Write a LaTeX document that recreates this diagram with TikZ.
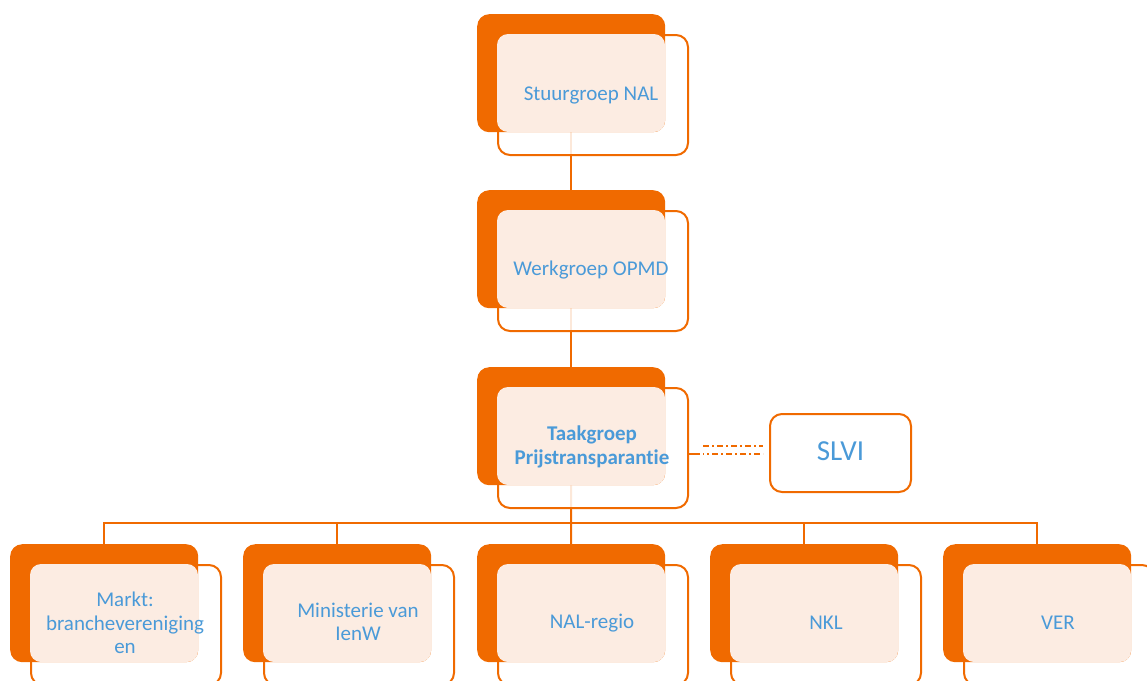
\documentclass[tikz,border=0pt]{standalone}
\usepackage{fontspec}
\setmainfont{Carlito}[Ligatures={NoCommon}]
\usetikzlibrary{backgrounds}
\definecolor{org}{HTML}{F06A00}
\definecolor{peach}{HTML}{FCECE2}
\definecolor{txt}{HTML}{4A9AD8}
\newcommand\orgbox[3]{%
  \node[frontbox] (#1f) at (#2+20,#3+20) {};
  \node[backbox] (#1b) at (#2,#3) {};
  \fill[peach, rounded corners=11pt] (#2+20,#3+20) rectangle (#2+188,#3+118);
}
\begin{document}
\begin{tikzpicture}[x=1pt,y=-1pt,
  backbox/.style={rectangle, anchor=north west, fill=org, rounded corners=12pt,
    minimum width=188pt, minimum height=118pt, inner sep=0pt},
  frontbox/.style={rectangle, anchor=north west, draw=org, line width=2pt, fill=white, fill opacity=0.85,
    rounded corners=12pt, minimum width=190pt, minimum height=120pt, inner sep=0pt},
  lbl/.style={text=txt, align=center, font=\fontsize{21}{23.5}\selectfont, inner sep=0pt},
  conn/.style={draw=org, line width=2pt},
  dashrow/.style={draw=org, line width=1.6pt, dash pattern=on 6pt off 3pt on 2pt off 3pt,
    shorten <=14pt, shorten >=6pt}]
\path[use as bounding box] (0,0) rectangle (1147,680);
\clip (0,0) rectangle (1147,680);

\orgbox{t1}{477}{14}
\orgbox{t2}{477}{190}
\orgbox{t3}{477}{367}
\orgbox{m1}{10}{544}
\orgbox{m2}{243}{544}
\orgbox{m3}{477}{544}
\orgbox{m4}{710}{544}
\orgbox{m5}{943}{544}

\node[draw=org, line width=2pt, rounded corners=12pt, fill=white, minimum width=141pt,
  minimum height=78pt, inner sep=0pt, text=txt, font=\fontsize{29}{32}\selectfont,
  anchor=north west] (slvi) at (769,413) {\raisebox{4pt}{SLVI}};

\node[lbl] (l1) at (591,95) {Stuurgroep NAL};
\node[lbl] (l2) at (591,270) {Werkgroep OPMD};
\node[lbl, font=\fontsize{21}{23.5}\selectfont\bfseries] (l3) at (592,447) {Taakgroep\\Prijstransparantie};
\node[lbl] (l4) at (125,623) {Markt:\\branchevereniging\\en};
\node[lbl] (l5) at (358,622) {Ministerie van\\IenW};
\node[lbl] (l6) at (592,623) {NAL-regio};
\node[lbl] (l7) at (826,623) {NKL};
\node[lbl] (l8) at (1058,623) {VER};

\begin{pgfonlayer}{background}
\draw[conn] (t1b.south) -- (t2b.north);
\draw[conn] (t2b.south) -- (t3b.north);
\coordinate (bus) at (571,523);
\draw[conn] (t3b.south) -- (bus);
\draw[conn] (bus) -| (m1b.north);
\draw[conn] (bus) -| (m2b.north);
\draw[conn] (bus) -- (m3b.north);
\draw[conn] (bus) -| (m4b.north);
\draw[conn] (bus) -| (m5b.north);
\end{pgfonlayer}
\draw[conn] ([yshift=-6pt]t3f.east) -- ++(11,0);
\draw[dashrow] ([yshift=2pt]t3f.east) -- ([yshift=2pt]t3f.east -| slvi.west);
\draw[dashrow, dash phase=5pt] ([yshift=-6pt]t3f.east) -- ([yshift=-6pt]t3f.east -| slvi.west);
\end{tikzpicture}
\end{document}
